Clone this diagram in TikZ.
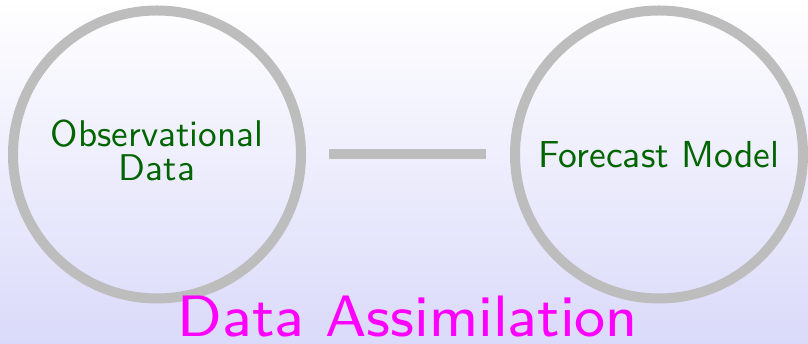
\documentclass[tikz,border=0pt]{standalone}
\usepackage{tikz}
\usepackage{graphicx}
\definecolor{ringgray}{RGB}{189,189,189}
\definecolor{txtgreen}{RGB}{0,100,0}
\definecolor{bgbot}{RGB}{218,218,250}
\definecolor{titlemag}{RGB}{255,0,255}
\begin{document}
\begin{tikzpicture}[x=1pt,y=1pt,
  ring/.style={circle, draw=ringgray, line width=10pt, minimum size=288pt, inner sep=0pt,
    text=txtgreen, font=\sffamily\fontsize{10}{12}\selectfont},
  link/.style={draw=ringgray, line width=10pt}]
\shade[top color=white, bottom color=bgbot] (0,0) rectangle (808,344);
\useasboundingbox (0,0) rectangle (808,344);
\node[ring] (obs) at (157,189.5) {\scalebox{3.72}{\begin{tabular}{@{}c@{}}Observational\\[-3pt]Data\end{tabular}}};
\node[ring] (fm) at (659,189.5) {\scalebox{3.76}{Forecast Model}};
\draw[link, shorten <=23pt, shorten >=24pt] (obs) -- (fm);
\node[anchor=base, text=titlemag, font=\sffamily\fontsize{8}{10}\selectfont, inner sep=0pt] (da) at (408,7.3) {\scalebox{7.3}{Data Assimilation}};
\end{tikzpicture}
\end{document}
